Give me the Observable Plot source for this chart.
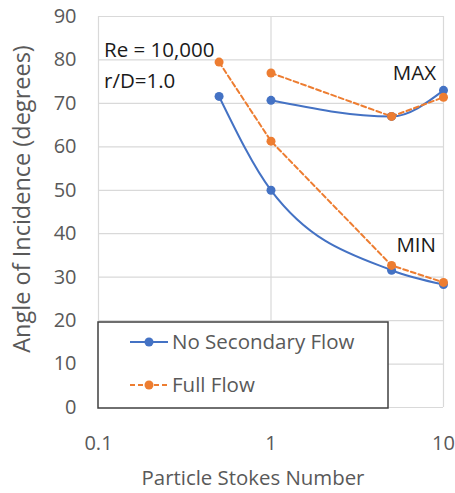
<!DOCTYPE html>
<html><head><meta charset="utf-8">
<script src="https://cdn.jsdelivr.net/npm/d3@7"></script>
<script src="https://cdn.jsdelivr.net/npm/@observablehq/plot@0.6"></script>
<style>
body{margin:0;background:#fff;}
#chart{position:relative;width:455px;height:493px;}
svg{font-family:"Open Sans",sans-serif;}
</style></head>
<body><div id="chart"></div>
<script>
const stokesMin = [0.5, 1, 5, 10];
const stokesMax = [1, 5, 10];
const noSecMin = [71.6, 50.0, 31.6, 28.3];
const noSecMax = [70.7, 67.0, 73.0];
const fullMin = [79.5, 61.3, 32.7, 28.8];
const fullMax = [77.0, 67.0, 71.4];
const xTicks = [0.1, 1, 10];
const yTicks = [0,10,20,30,40,50,60,70,80,90];
const seriesNames = ["No Secondary Flow", "Full Flow"];
const colors = ["#4472C4", "#ED7D31"];

const mk = (xs, ys) => xs.map((x,i)=>({x, y: ys[i]}));
const bMin = mk(stokesMin, noSecMin), bMax = mk(stokesMax, noSecMax);
const oMin = mk(stokesMin, fullMin), oMax = mk(stokesMax, fullMax);

const W = 455, H = 493;
const plot = Plot.plot({
  width: W, height: H,
  marginLeft: 98, marginRight: 12, marginTop: 16, marginBottom: 86,
  style: {fontFamily: "Open Sans, sans-serif", background: "white"},
  x: {type: "log", domain: [0.1, 10], ticks: xTicks, tickFormat: d => String(d), label: null},
  y: {domain: [0, 90], ticks: yTicks, label: null},
  marks: [
    Plot.ruleY(yTicks, {stroke: "#d9d9d9", strokeWidth: 1.2}),
    Plot.ruleX(xTicks, {stroke: "#d9d9d9", strokeWidth: 1.2}),
    Plot.axisX({ticks: xTicks, tickFormat: d => String(d), tickSize: 0, tickPadding: 28, fontSize: 20, fill: "#595959", label: null}),
    Plot.axisY({ticks: yTicks, tickSize: 0, tickPadding: 22, fontSize: 20, fill: "#595959", label: null}),
    Plot.line(bMin, {x: "x", y: "y", stroke: colors[0], strokeWidth: 2, curve: "monotone-x"}),
    Plot.line(bMax, {x: "x", y: "y", stroke: colors[0], strokeWidth: 2, curve: "monotone-x"}),
    Plot.line(oMin, {x: "x", y: "y", stroke: colors[1], strokeWidth: 2, strokeDasharray: "5,3"}),
    Plot.line(oMax, {x: "x", y: "y", stroke: colors[1], strokeWidth: 2, strokeDasharray: "5,3"}),
    Plot.dot(bMin.concat(bMax), {x: "x", y: "y", r: 4.5, fill: colors[0]}),
    Plot.dot(oMin.concat(oMax), {x: "x", y: "y", r: 4.5, fill: colors[1]})
  ]
});
document.getElementById("chart").appendChild(plot);

const svg = d3.select(plot);
// axis titles
svg.append("text").attr("x", 253).attr("y", 485).attr("text-anchor", "middle")
  .attr("font-size", 20.4).attr("fill", "#595959").text("Particle Stokes Number");
svg.append("text").attr("transform", "translate(30,199) rotate(-90)").attr("text-anchor", "middle")
  .attr("font-size", 23.5).attr("fill", "#595959").text("Angle of Incidence (degrees)");
// annotations
const ann = [["Re = 10,000", 104, 57, "start"], ["r/D=1.0", 104, 88, "start"], ["MAX", 436, 80, "end"], ["MIN", 436, 252, "end"]];
ann.forEach(([t,x,y,a]) => svg.append("text").attr("x", x).attr("y", y).attr("text-anchor", a)
  .attr("font-size", 20.5).attr("fill", "#1a1a1a").text(t));
// legend
const lg = svg.append("g").attr("text-anchor", "start");
lg.append("rect").attr("x", 98).attr("y", 322).attr("width", 290).attr("height", 86)
  .attr("fill", "white").attr("stroke", "#404040").attr("stroke-width", 1.5);
seriesNames.forEach((n,i) => {
  const y = 342 + i*43;
  lg.append("line").attr("x1", 130).attr("x2", 168).attr("y1", y).attr("y2", y)
    .attr("stroke", colors[i]).attr("stroke-width", 2).attr("stroke-dasharray", i ? "5,3" : null);
  lg.append("circle").attr("cx", 149).attr("cy", y).attr("r", 4.5).attr("fill", colors[i]);
  lg.append("text").attr("x", 172).attr("y", y + 7).attr("text-anchor", "start")
    .attr("font-size", 20.5).attr("fill", "#595959").text(n);
});
</script></body></html>
